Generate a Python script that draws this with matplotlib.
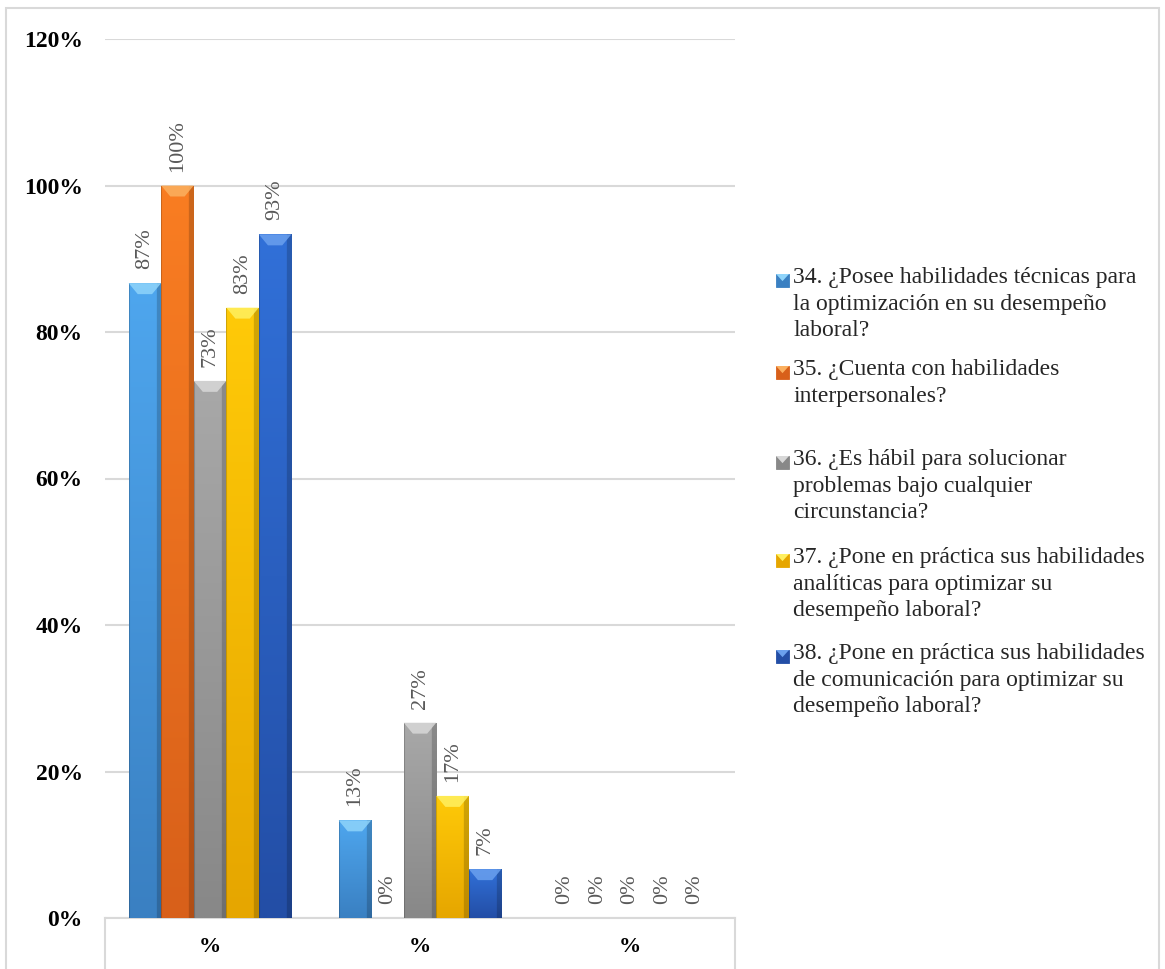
import numpy as np
import matplotlib.pyplot as plt
from matplotlib.patches import Polygon, Rectangle
from matplotlib.colors import to_rgb

# datos
categorias = ["%", "%", "%"]
preguntas = [
    "34. ¿Posee habilidades técnicas para\nla optimización en su desempeño\nlaboral?",
    "35. ¿Cuenta con habilidades\ninterpersonales?",
    "36. ¿Es hábil para solucionar\nproblemas bajo cualquier\ncircunstancia?",
    "37. ¿Pone en práctica sus habilidades\nanalíticas para optimizar su\ndesempeño laboral?",
    "38. ¿Pone en práctica sus habilidades\nde comunicación para optimizar su\ndesempeño laboral?",
]
p34 = [0.8667, 0.1333, 0.0]
p35 = [1.0, 0.0, 0.0]
p36 = [0.7333, 0.2667, 0.0]
p37 = [0.8333, 0.1667, 0.0]
p38 = [0.9333, 0.0667, 0.0]
series = [p34, p35, p36, p37, p38]
etiquetas = [
    ["87%", "13%", "0%"],
    ["100%", "0%", "0%"],
    ["73%", "27%", "0%"],
    ["83%", "17%", "0%"],
    ["93%", "7%", "0%"],
]
yticks = [0, 0.2, 0.4, 0.6, 0.8, 1.0, 1.2]
ytick_labels = ["0%", "20%", "40%", "60%", "80%", "100%", "120%"]

# colores: arriba / abajo / bisel
col_top = ["#4ea6ee", "#f97d22", "#a8a8a8", "#ffca08", "#3170d8"]
col_bot = ["#3a80c2", "#d8601a", "#888888", "#e6a600", "#234ea6"]
col_bev = ["#8fd4fa", "#fbb060", "#d8d8d8", "#fff060", "#6aa0ee"]

plt.rcParams['font.family'] = ['Liberation Serif', 'DejaVu Serif']

fig = plt.figure(figsize=(11.65, 9.69), dpi=100)
ax = fig.add_axes([105/1165, 51/969, 630/1165, 879/969])

x = np.arange(len(categorias))
ancho = 0.155
n = len(series)

for i, vals in enumerate(series):
    pos = x + (i - (n - 1) / 2) * ancho
    bars = ax.bar(pos, vals, ancho, color=col_top[i], edgecolor="none", zorder=2)
    top = np.array(to_rgb(col_top[i]))
    bot = np.array(to_rgb(col_bot[i]))
    for b, txt in zip(bars, etiquetas[i]):
        h = b.get_height()
        x0 = b.get_x()
        w = b.get_width()
        if h > 0:
            # degradado vertical con bordes laterales mas oscuros
            t = np.linspace(0, 1, 64)[:, None, None]
            s = np.linspace(0, 1, 32)[None, :, None]
            img = bot + (top - bot) * t
            edge = 1 - 0.18 * (np.abs(s - 0.45) > 0.42)
            img = np.clip(img * edge, 0, 1)
            im = ax.imshow(img, extent=[x0, x0 + w, 0, h], origin="lower",
                           aspect="auto", zorder=3, interpolation="bilinear")
            im.set_clip_path(b)
            bh = min(0.015, h)
            d = w * 0.28
            bevel = Polygon([[x0, h], [x0 + w, h], [x0 + w - d, h - bh], [x0 + d, h - bh]],
                            closed=True, facecolor=col_bev[i], edgecolor="none", alpha=0.85, zorder=4)
            ax.add_patch(bevel)
        ax.annotate(txt, (x0 + w / 2, h), xytext=(0, 10), textcoords="offset points",
                    rotation=90, ha="center", va="bottom",
                    fontsize=16, color="#595959", zorder=5)

ax.set_xlim(-0.5, 2.5)
ax.set_ylim(0, 1.2)
ax.set_yticks(yticks)
ax.set_yticklabels(ytick_labels, fontsize=17, fontweight="bold")
ax.yaxis.grid(True, color="#d9d9d9", linewidth=1.5, zorder=0)
ax.set_axisbelow(True)
ax.tick_params(axis="y", length=0, pad=16)
ax.set_xticks(x)
ax.set_xticklabels(categorias, fontsize=16, fontweight="bold")
ax.tick_params(axis="x", length=0, pad=14)
for sp in ["top", "right", "left"]:
    ax.spines[sp].set_visible(False)
ax.spines["bottom"].set_color("#d9d9d9")
ax.spines["bottom"].set_linewidth(1.5)

# lineas verticales del eje de categorias
for xv in [-0.5, 2.5]:
    ax.plot([xv, xv], [0, -0.07], color="#d9d9d9", linewidth=1.5, clip_on=False, zorder=1)

# leyenda
leg_y = [280, 372, 462, 560, 656]
W, H = 1165, 969
for i, (lab, yy) in enumerate(zip(preguntas, leg_y)):
    fy = 1 - yy / H
    mx, my, ms = 776 / W, fy - 7 / H, 13
    fig.patches.append(Rectangle((mx, my), ms / W, ms / H,
                                 transform=fig.transFigure, facecolor=col_bot[i],
                                 edgecolor=col_bot[i], linewidth=0.6))
    fig.patches.append(Polygon([[mx, my + ms / H], [mx + ms / W, my + ms / H],
                                [mx + 0.5 * ms / W, my + 0.45 * ms / H]],
                               closed=True, transform=fig.transFigure,
                               facecolor=col_bev[i], edgecolor="none"))
    fig.text(793 / W, fy + 13 / H, lab, fontsize=17, color="#262626",
             va="top", ha="left", linespacing=1.35)

# borde del grafico
fig.patches.append(Rectangle((6/1165, -0.01), 1153/1165, 1 - 8/969 + 0.01,
                             transform=fig.transFigure, facecolor="none",
                             edgecolor="#d9d9d9", linewidth=1.5))

plt.savefig("out.png", dpi=100)
